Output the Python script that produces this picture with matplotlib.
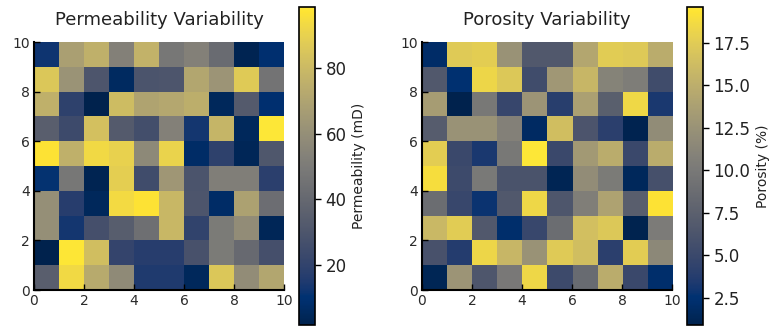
import numpy as np
import matplotlib
matplotlib.use('Agg')
import matplotlib.pyplot as plt

# 10x10 grid values, rows listed from top (y=9..10) down to bottom (y=0..1)
permeability = [
    [12, 68, 76, 53, 77, 48, 53, 42, 3, 9],
    [86, 62, 30, 6, 29, 30, 71, 63, 87, 46],
    [76, 19, 1.7, 81, 70, 72, 75, 5, 33, 9],
    [35, 24, 83, 33, 26, 53, 13, 78, 5, 98.6],
    [97, 76, 93, 90, 57, 91, 7, 19, 4, 31],
    [11, 48, 3, 89, 25, 64, 29, 52, 52, 18],
    [60, 17, 5, 94, 97, 79, 30, 7, 69, 43],
    [60, 13, 27, 34, 44, 79, 20, 50, 59, 4],
    [2, 98, 82, 21, 17, 17, 28, 50, 41, 27],
    [35, 93, 73, 58, 15, 15, 5, 86, 59, 71],
]

porosity = [
    [2.0, 17.4, 17.7, 12.5, 6.7, 6.7, 14.4, 17.5, 17.3, 14.9],
    [6.7, 2.4, 18.3, 17.2, 5.4, 13.0, 15.8, 11.0, 10.4, 5.4],
    [13.4, 0.9, 9.9, 4.8, 12.7, 3.9, 13.8, 7.4, 18.5, 3.3],
    [7.1, 12.5, 12.5, 10.8, 1.8, 16.4, 6.3, 4.1, 1.1, 11.9],
    [17.7, 5.0, 3.3, 9.9, 19.6, 5.0, 13.1, 14.9, 5.0, 14.9],
    [18.9, 5.2, 10.1, 6.1, 6.1, 1.2, 12.0, 10.2, 1.5, 5.8],
    [8.8, 4.9, 2.8, 6.7, 18.4, 6.5, 10.6, 14.0, 7.3, 19.3],
    [15.9, 17.5, 6.7, 2.2, 4.9, 8.8, 16.5, 17.2, 1.0, 10.3],
    [6.0, 3.7, 18.3, 15.8, 12.5, 17.4, 16.4, 4.1, 17.6, 11.5],
    [1.3, 12.7, 6.4, 10.0, 18.4, 5.2, 8.6, 14.9, 5.0, 2.2],
]

titles = ['Permeability Variability', 'Porosity Variability']
cbar_labels = ['Permeability (mD)', 'Porosity (%)']
ticks = [0, 2, 4, 6, 8, 10]

W, H = 775, 329
fig = plt.figure(figsize=(W / 100, H / 100), dpi=100)


def box(x0, y0, x1, y1):
    # pixel box (top-left origin) -> figure fraction rect
    return [x0 / W, 1 - y1 / H, (x1 - x0) / W, (y1 - y0) / H]


panels = [
    (permeability, box(34, 42, 284, 290), box(299, 7, 315, 325), 159),
    (porosity, box(422, 42, 672, 290), box(687, 7, 703, 325), 547),
]

for i, (grid, ax_rect, cb_rect, tx) in enumerate(panels):
    ax = fig.add_axes(ax_rect)
    im = ax.imshow(np.array(grid), cmap='cividis', origin='upper',
                   extent=(0, 10, 0, 10), aspect='auto', interpolation='nearest')
    ax.set_xticks(ticks)
    ax.set_yticks(ticks)
    ax.tick_params(direction='in', length=4, width=1, labelsize=10,
                   colors='black', labelcolor='#2a2a2a', pad=3)
    for side in ('top', 'right'):
        ax.spines[side].set_visible(False)
    for side in ('left', 'bottom'):
        ax.spines[side].set_linewidth(1.5)
        ax.spines[side].set_color('black')
    fig.text(tx / W, 1 - 20 / H, titles[i], ha='center', va='center',
             fontsize=13, color='#222222')

    cax = fig.add_axes(cb_rect)
    cb = fig.colorbar(im, cax=cax)
    cb.outline.set_linewidth(1.2)
    cb.ax.tick_params(labelsize=12, length=4, width=1, labelcolor='#222222')
    cb.set_label(cbar_labels[i], fontsize=10, color='#222222')

fig.savefig('out.png', dpi=100)
